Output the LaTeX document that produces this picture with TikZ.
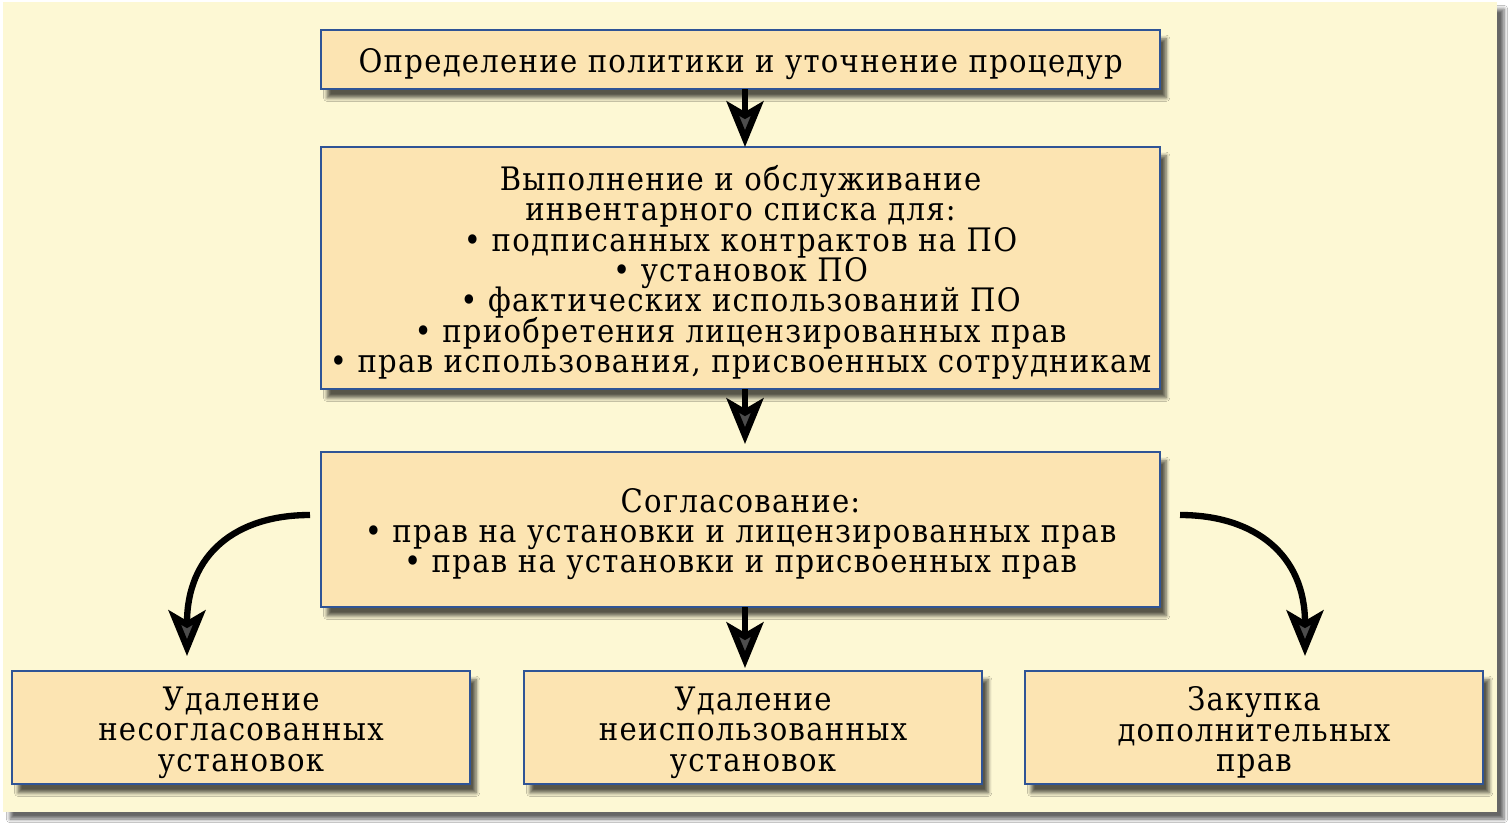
\documentclass[tikz,border=0pt]{standalone}
\usepackage{fontspec}
\setmainfont{DejaVu Serif Condensed}[LetterSpace=4]
\usetikzlibrary{arrows.meta,shadows.blur}
\definecolor{bgyellow}{RGB}{253,248,212}
\definecolor{boxfill}{RGB}{252,228,178}
\definecolor{boxline}{RGB}{47,84,150}
\newcommand\myboxfont{\fontsize{18.4}{17.3}\selectfont\lineskiplimit=-30pt\relax}
\tikzset{
  stepbox/.style={draw=boxline, line width=1.6pt, fill=boxfill, rectangle,
    inner sep=0pt,
    blur shadow={shadow xshift=3.5pt, shadow yshift=-5pt, shadow blur steps=6, shadow opacity=65}},
  boxtext/.style={align=center, inner sep=0pt, font=\myboxfont},
  flow/.style={line width=3.6pt, -{Stealth[length=26pt, width=21pt, inset=6pt]}}
}
\begin{document}
\begin{tikzpicture}[x=0.02cm,y=-0.02cm]
\useasboundingbox (0,0) rectangle (1511,827);
\fill[white] (0,0) rectangle (1511,827);
\fill[bgyellow, blur shadow={shadow xshift=4pt, shadow yshift=-4pt, shadow blur steps=6, shadow opacity=60}] (3,2) rectangle (1497,812);

\node[stepbox, minimum width=839*0.02cm, minimum height=59*0.02cm] (a) at (740.5,59.5) {};
\node[boxtext] (at) at (740.5,64)
  {Определение политики и уточнение процедур};
\node[stepbox, minimum width=839*0.02cm, minimum height=242*0.02cm] (b) at (740.5,268) {};
\node[boxtext] (bt) at (740.5,272.5)
  {Выполнение и обслуживание\\инвентарного списка для:\\• подписанных контрактов на ПО\\• установок ПО\\• фактических использований ПО\\• приобретения лицензированных прав\\• прав использования, присвоенных сотрудникам};
\node[stepbox, minimum width=839*0.02cm, minimum height=155*0.02cm] (c) at (740.5,529.5) {};
\node[boxtext] (ct) at (740.5,534)
  {Согласование:\\• прав на установки и лицензированных прав\\• прав на установки и присвоенных прав};
\node[stepbox, minimum width=458*0.02cm, minimum height=113*0.02cm] (d) at (241,727.5) {};
\node[boxtext] (dtx) at (241,732.5)
  {Удаление\\несогласованных\\установок};
\node[stepbox, minimum width=458*0.02cm, minimum height=113*0.02cm] (e) at (753,727.5) {};
\node[boxtext] (etx) at (753,732.5)
  {Удаление\\неиспользованных\\установок};
\node[stepbox, minimum width=458*0.02cm, minimum height=113*0.02cm] (f) at (1254,727.5) {};
\node[boxtext] (ftx) at (1254,732.5)
  {Закупка\\дополнительных\\прав};

\coordinate (ab1) at (745,89);
\coordinate (ab2) at (745,147);
\coordinate (bc1) at (745,389);
\coordinate (bc2) at (745,444);
\coordinate (ce1) at (745,607);
\coordinate (ce2) at (745,668);
\coordinate (cl) at (310,515);
\coordinate (dt) at (187,656);
\coordinate (cr) at (1180,515);
\coordinate (ft) at (1305,656);

\draw[flow] (ab1) -- (ab2);
\draw[flow] (bc1) -- (bc2);
\draw[flow] (ce1) -- (ce2);
\draw[flow] (cl) .. controls (235,515) and (187,555) .. (dt);
\draw[flow] (cr) .. controls (1255,515) and (1305,555) .. (ft);
\end{tikzpicture}
\end{document}
